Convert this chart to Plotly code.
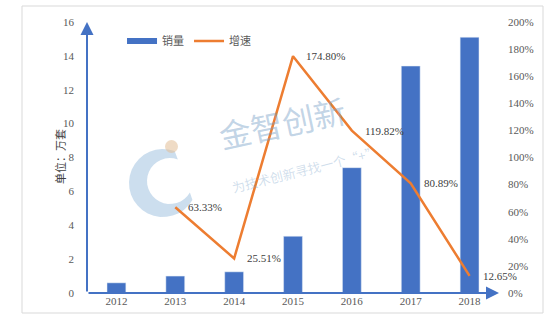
import math
import plotly.graph_objects as go

years = ["2012", "2013", "2014", "2015", "2016", "2017", "2018"]
sales = [0.6, 1.0, 1.25, 3.35, 7.4, 13.4, 15.1]
growth_years = ["2013", "2014", "2015", "2016", "2017", "2018"]
growth = [63.33, 25.51, 174.80, 119.82, 80.89, 12.65]
left_ticks = list(range(0, 17, 2))
right_ticks = list(range(0, 201, 20))

BLUE = "#4472C4"
ORANGE = "#ED7D31"
SERIF = "Times New Roman"
CJK = "Noto Sans CJK SC"

W, H = 553, 327
ml, mr, mt, mb = 87, 54, 22, 34

fig = go.Figure()
fig.add_trace(go.Bar(x=years, y=sales, marker_color=BLUE, width=0.32,
                     name="销量", showlegend=False))
fig.add_trace(go.Scatter(x=growth_years, y=growth, yaxis="y2", mode="lines",
                         line=dict(color=ORANGE, width=2.5),
                         name="增速", showlegend=False))
# legend entries
fig.add_trace(go.Scatter(x=[None], y=[None], mode="lines", name="销量",
                         line=dict(color=BLUE, width=6)))
fig.add_trace(go.Scatter(x=[None], y=[None], mode="lines", name="增速",
                         line=dict(color=ORANGE, width=2.5)))

fig.update_layout(
    width=W, height=H,
    margin=dict(l=ml, r=mr, t=mt, b=mb),
    paper_bgcolor="white", plot_bgcolor="white",
    font=dict(family=SERIF, size=11, color="#595959"),
    showlegend=True,
    legend=dict(orientation="h", x=0.085, y=0.93, xanchor="left", yanchor="middle",
                font=dict(family=CJK, size=11, color="#595959"),
                bgcolor="rgba(0,0,0,0)", itemwidth=30, tracegroupgap=0),
    xaxis=dict(type="category", categoryorder="array", categoryarray=years,
               range=[-0.5, len(years) - 0.5],
               showline=False, showgrid=False, zeroline=False, ticks="",
               tickfont=dict(family=SERIF, size=11, color="#595959")),
    yaxis=dict(range=[0, 16], tickmode="array", tickvals=left_ticks,
               ticktext=[str(v) for v in left_ticks],
               showgrid=False, zeroline=False,
               showline=False, ticks="", ticklabelstandoff=12,
               tickfont=dict(family=SERIF, size=11, color="#595959")),
    yaxis2=dict(range=[0, 200], tickmode="array", tickvals=right_ticks,
                ticktext=[f"{v}%" for v in right_ticks], overlaying="y",
                side="right", showgrid=False, zeroline=False, showline=False, ticks="",
                ticklabelstandoff=8,
                tickfont=dict(family=SERIF, size=11, color="#595959")),
)

pw = W - ml - mr
ph = H - mt - mb

def px(x):
    return (x - ml) / pw

def py(y):
    return (H - mb - y) / ph

# outer border
fig.add_shape(type="rect", xref="paper", yref="paper",
              x0=px(22), x1=px(543), y0=py(313), y1=py(6),
              line=dict(color="#D9D9D9", width=1), layer="below")

# watermark logo (crescent + dot)
def arc(cx, cy, r, a0, a1, n=24):
    pts = []
    for i in range(n + 1):
        a = math.radians(a0 + (a1 - a0) * i / n)
        pts.append((cx + r * math.cos(a), cy - r * math.sin(a)))
    return pts

outer = arc(163, 183, 34, 70, 330)
inner = arc(170, 181, 23, 330, 70)
pts = outer + inner
path = "M " + " L ".join(f"{px(x):.4f},{py(y):.4f}" for x, y in pts) + " Z"
fig.add_shape(type="path", xref="paper", yref="paper", path=path,
              fillcolor="rgba(110,160,205,0.35)", line=dict(width=0), layer="below")
fig.add_shape(type="circle", xref="paper", yref="paper",
              x0=px(165), x1=px(178), y0=py(153), y1=py(140),
              fillcolor="rgba(225,190,150,0.55)", line=dict(width=0), layer="below")

anns = []
# data labels
for yr, v in zip(growth_years, growth):
    anns.append(dict(xref="x", yref="y2", x=years.index(yr), y=v, text=f"{v:.2f}%",
                     xanchor="left", yanchor="middle", xshift=11, showarrow=False,
                     font=dict(family=SERIF, size=11, color="#404040")))
# axis arrows
anns.append(dict(xref="paper", yref="paper", x=0, y=1, ax=0, ay=ph, axref="pixel", ayref="pixel",
                 showarrow=True, arrowhead=2, arrowsize=1.3, arrowwidth=2, arrowcolor=BLUE, text=""))
anns.append(dict(xref="paper", yref="paper", x=1, y=0, ax=-pw, ay=0, axref="pixel", ayref="pixel",
                 showarrow=True, arrowhead=2, arrowsize=1.3, arrowwidth=2, arrowcolor=BLUE, text=""))
# y axis title
anns.append(dict(xref="paper", yref="paper", x=px(50), y=py(157), text="单位：万套",
                 textangle=-90, showarrow=False,
                 font=dict(family=CJK, size=11, color="#404040")))
# watermark
anns.append(dict(xref="paper", yref="paper", x=px(282), y=py(122), text="金智创新",
                 textangle=-12, showarrow=False,
                 font=dict(family=CJK, size=32, color="rgba(120,160,200,0.45)")))
anns.append(dict(xref="paper", yref="paper", x=px(305), y=py(170), text="为技术创新寻找一个“+”",
                 textangle=-14, showarrow=False,
                 font=dict(family=CJK, size=13, color="rgba(120,160,200,0.35)")))
fig.update_layout(annotations=anns)

fig.write_html("out.html")
